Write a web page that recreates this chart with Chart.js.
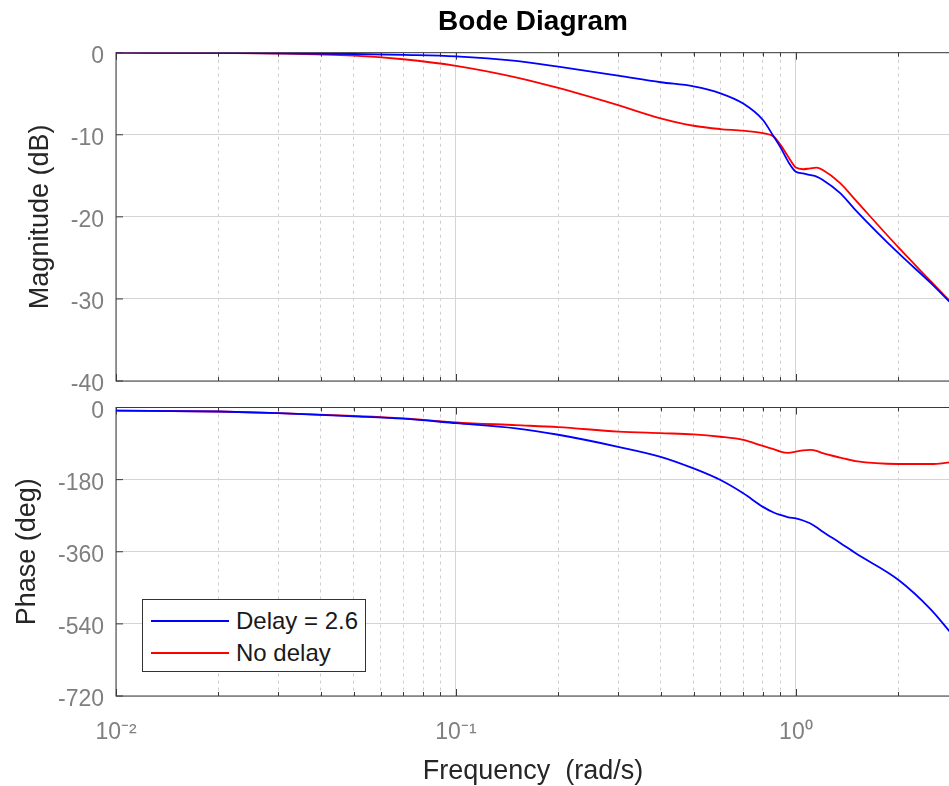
<!DOCTYPE html>
<html>
<head>
<meta charset="utf-8">
<title>Bode Diagram</title>
<script src="https://cdn.jsdelivr.net/npm/chart.js@4.4.1/dist/chart.umd.min.js"></script>
<style>
    html, body { margin: 0; padding: 0; background: #fff; overflow: hidden; }
    body { width: 949px; height: 786px; position: relative; font-family: "Liberation Sans", Arial, Helvetica, sans-serif; }
    #magChart { position: absolute; left: 0; top: 0; }
    #phaseChart { position: absolute; left: 0; top: 395px; }
    #legend {
        position: absolute; left: 142px; top: 599px; width: 222px; height: 71px;
        background: #fff; border: 1px solid #333; box-sizing: content-box;
    }
    .legend-item { position: absolute; left: 0; height: 30px; width: 222px; }
    .legend-line { position: absolute; left: 8px; top: 14px; width: 78px; height: 2px; }
    .legend-text { position: absolute; left: 93px; top: 0; font-size: 24px; line-height: 30px; color: #1a1a1a; white-space: nowrap; }
</style>
</head>
<body>
<canvas id="magChart" width="960" height="395"></canvas>
<canvas id="phaseChart" width="960" height="391"></canvas>
<div id="legend"></div>
<script>
const frequencies  = [0.01, 0.02, 0.03, 0.05, 0.07, 0.1, 0.15, 0.2, 0.3, 0.4, 0.5, 0.6, 0.7, 0.8, 0.86, 0.9, 0.95, 1.0, 1.05, 1.1, 1.15, 1.2, 1.35, 1.5, 2.0, 2.5, 2.84];
const magDelay     = [0, -0.03, -0.07, -0.16, -0.27, -0.45, -1.0, -1.7, -2.8, -3.6, -4.1, -4.95, -6.2, -8.2, -10.2, -11.5, -13.3, -14.5, -14.7, -14.9, -15.1, -15.5, -17.1, -19.2, -24.4, -28.1, -30.4];
const magNoDelay   = [0, -0.05, -0.1, -0.35, -0.8, -1.6, -3.0, -4.3, -6.4, -8.0, -8.9, -9.3, -9.5, -9.8, -10.2, -11.2, -12.7, -14.0, -14.2, -14.1, -14.0, -14.3, -15.9, -18.0, -23.7, -27.9, -30.3];
const phaseDelay   = [-8, -10, -14, -22, -28, -39, -52, -68, -98, -123, -152, -181, -214, -248, -262, -268, -274, -277, -282, -289, -299, -310, -338, -364, -430, -505, -560];
const phaseNoDelay = [-8, -10, -14, -21, -27, -37, -44, -49, -60, -64, -67, -73, -81, -96, -104, -110, -113, -110, -107, -106, -108, -114, -125, -134, -141, -141, -137];

const seriesLabels = ['Delay = 2.6', 'No delay'];
const seriesColors = ['#0000ff', '#ff0000'];

const magTicks = [0, -10, -20, -30, -40];
const phaseTicks = [0, -180, -360, -540, -720];
const xTickValues = [0.01, 0.1, 1];
const xTickLabels = ['10\u207B\u00B2', '10\u207B\u00B9', '10\u2070'];

const FONT = '"Liberation Sans", Arial, Helvetica, sans-serif';
Chart.defaults.font.family = FONT;

function isDecade(v) {
    if (v === undefined || v <= 0) return false;
    const l = Math.log10(v);
    return Math.abs(l - Math.round(l)) < 1e-9;
}

function toPoints(xs, ys) {
    return xs.map((x, i) => ({ x: x, y: ys[i] }));
}

// grille log : 1..9 x 10^n
function logGridTicks(min, max) {
    const out = [];
    for (let e = -2; e <= 0; e++) {
        for (let d = 1; d <= 9; d++) {
            const v = d * Math.pow(10, e);
            if (v >= min - 1e-12 && v <= max) out.push({ value: v });
        }
    }
    return out;
}

// Cadre des axes + graduations intérieures (style MATLAB)
const axesFrame = {
    id: 'axesFrame',
    beforeDatasetsDraw(chart) {
        const { ctx, chartArea: a, scales } = chart;
        ctx.save();
        ctx.strokeStyle = '#3a3a3a';
        ctx.lineWidth = 1;
        ctx.strokeRect(a.left, a.top, a.right - a.left, a.bottom - a.top);
        ctx.beginPath();
        scales.x.ticks.forEach(t => {
            const px = Math.round(scales.x.getPixelForValue(t.value)) + 0.5;
            const len = isDecade(t.value) ? 7 : 4;
            ctx.moveTo(px, a.top); ctx.lineTo(px, a.top + len);
            ctx.moveTo(px, a.bottom); ctx.lineTo(px, a.bottom - len);
        });
        scales.y.ticks.forEach(t => {
            const py = scales.y.getPixelForValue(t.value);
            ctx.moveTo(a.left, py); ctx.lineTo(a.left + 7, py);
        });
        ctx.stroke();
        ctx.restore();
    }
};

function frequencyAxis(showLabels) {
    const axis = {
        type: 'logarithmic',
        min: 0.01,
        max: 2.84,
        afterBuildTicks: scale => { scale.ticks = logGridTicks(0.01, 2.84); },
        ticks: {
            display: showLabels,
            autoSkip: false,
            maxRotation: 0,
            padding: 23,
            color: '#7f7f7f',
            font: { size: 23 },
            callback: value => {
                const i = xTickValues.findIndex(v => Math.abs(v - value) < 1e-9);
                return i >= 0 ? xTickLabels[i] : '';
            }
        },
        grid: {
            drawTicks: false,
            color: ctx => isDecade(ctx.tick && ctx.tick.value) ? '#d4d4d4' : '#cdcdcd'
        },
        border: {
            display: false,
            dash: ctx => (ctx.tick && !isDecade(ctx.tick.value)) ? [3, 4] : []
        }
    };
    axis.afterFit = scale => {
        scale.height = showLabels ? 90 : 0;
        scale.paddingLeft = 0;
        scale.paddingRight = 0;
    };
    if (showLabels) {
        axis.title = {
            display: true,
            text: 'Frequency  (rad/s)',
            color: '#262626',
            font: { size: 27, lineHeight: 1.1 },
            padding: 0
        };
    }
    return axis;
}

function valueAxis(ticks, title, titlePad) {
    return {
        min: ticks[ticks.length - 1],
        max: ticks[0],
        afterBuildTicks: scale => { scale.ticks = ticks.map(v => ({ value: v })); },
        afterFit: scale => {
            scale.width = 116;
            scale.paddingTop = 0;
            scale.paddingBottom = 0;
        },
        ticks: {
            color: '#7f7f7f',
            font: { size: 23 },
            padding: 12,
            labelOffset: 4
        },
        grid: { drawTicks: false, color: '#d4d4d4' },
        border: { display: false },
        title: {
            display: true,
            text: title,
            color: '#262626',
            font: { size: 27 },
            padding: { top: titlePad, bottom: 0 }
        }
    };
}

function lineDataset(i, ys) {
    return {
        label: seriesLabels[i],
        data: toPoints(frequencies, ys),
        borderColor: seriesColors[i],
        backgroundColor: seriesColors[i],
        borderWidth: 1.8,
        pointRadius: 0,
        fill: false,
        cubicInterpolationMode: 'monotone'
    };
}

const magChart = new Chart(document.getElementById('magChart'), {
    type: 'line',
    data: { datasets: [lineDataset(0, magDelay), lineDataset(1, magNoDelay)] },
    options: {
        responsive: false,
        animation: false,
        devicePixelRatio: 1,
        parsing: false,
        layout: { padding: { left: 0, right: 10, top: 0, bottom: 14 } },
        plugins: {
            legend: { display: false },
            tooltip: { enabled: false },
            title: {
                display: true,
                text: 'Bode Diagram',
                fullSize: false,
                color: '#000',
                font: { size: 28, weight: 'bold' },
                padding: { top: 5, bottom: 14.1 }
            }
        },
        scales: {
            x: frequencyAxis(false),
            y: valueAxis(magTicks, 'Magnitude (dB)', 24)
        }
    },
    plugins: [axesFrame]
});

const phaseChart = new Chart(document.getElementById('phaseChart'), {
    type: 'line',
    data: { datasets: [lineDataset(0, phaseDelay), lineDataset(1, phaseNoDelay)] },
    options: {
        responsive: false,
        animation: false,
        devicePixelRatio: 1,
        parsing: false,
        layout: { padding: { left: 0, right: 10, top: 12.5, bottom: 0 } },
        plugins: {
            legend: { display: false },
            tooltip: { enabled: false }
        },
        scales: {
            x: frequencyAxis(true),
            y: valueAxis(phaseTicks, 'Phase (deg)', 11)
        }
    },
    plugins: [axesFrame]
});

// Légende HTML construite à partir des séries
function buildLegend(chart) {
    const legend = document.getElementById('legend');
    legend.innerHTML = chart.data.datasets.map((ds, i) => `
        <div class="legend-item" style="top:${6 + i * 32}px">
            <div class="legend-line" style="background:${ds.borderColor}"></div>
            <div class="legend-text">${ds.label}</div>
        </div>
    `).join('');
}
buildLegend(phaseChart);
</script>
</body>
</html>
